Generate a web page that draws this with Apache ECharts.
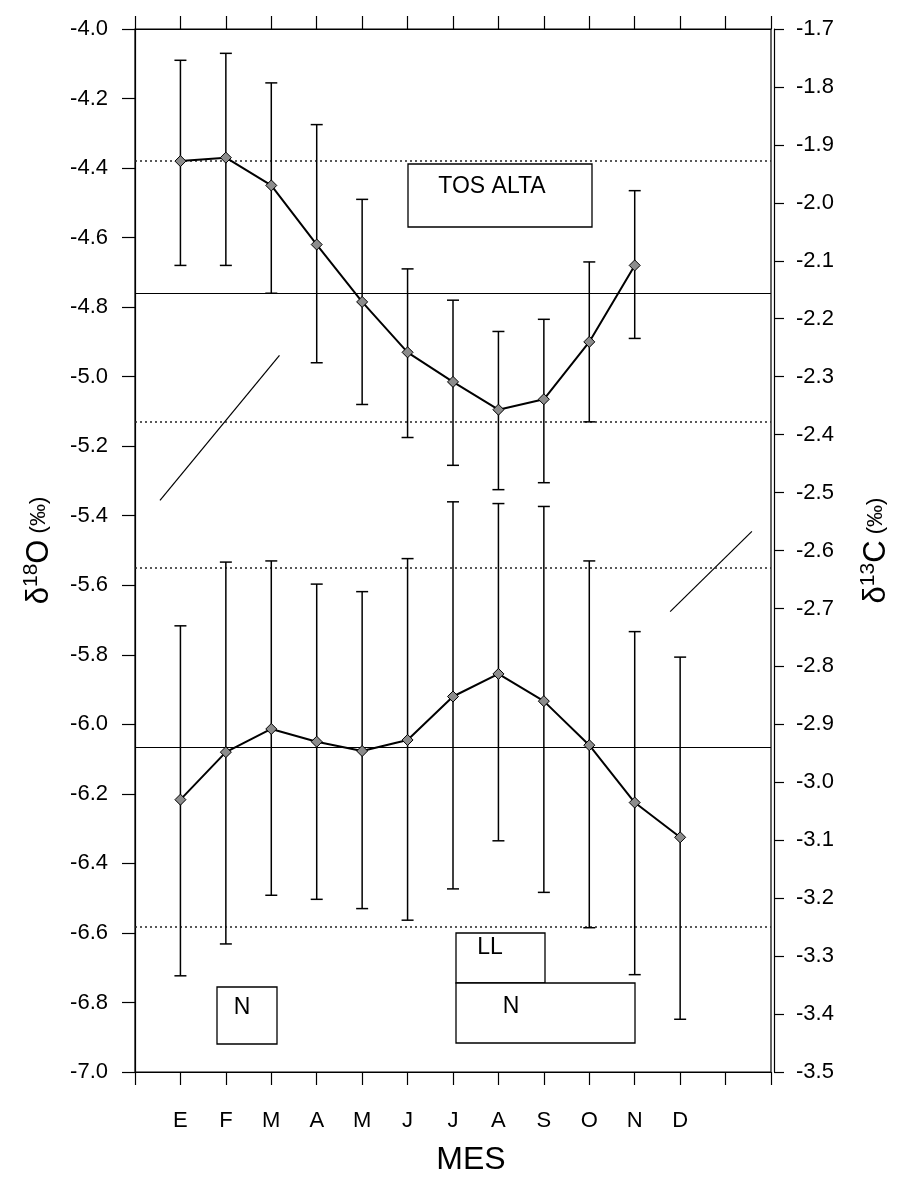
<!DOCTYPE html>
<html>
<head>
<meta charset="utf-8">
<script src="https://cdn.jsdelivr.net/npm/echarts@6/dist/echarts.min.js"></script>
<style>
html,body{margin:0;padding:0;background:#fff;}
#chart{width:908px;height:1182px;}
</style>
</head>
<body>
<div id="chart"></div>
<script>
// ---- data ----
var months = ['E','F','M','A','M','J','J','A','S','O','N','D'];
// delta 18O (left axis), months E..N
var d18O_mean = [-4.38,-4.37,-4.45,-4.62,-4.785,-4.93,-5.015,-5.095,-5.065,-4.90,-4.68];
var d18O_hi   = [-4.09,-4.07,-4.155,-4.275,-4.49,-4.69,-4.78,-4.87,-4.835,-4.67,-4.465];
var d18O_lo   = [-4.68,-4.68,-4.76,-4.96,-5.08,-5.175,-5.255,-5.325,-5.305,-5.13,-4.89];
// delta 13C (right axis), months E..D
var d13C_mean = [-3.03,-2.948,-2.908,-2.93,-2.946,-2.927,-2.852,-2.813,-2.86,-2.936,-3.035,-3.095];
var d13C_hi   = [-2.73,-2.62,-2.618,-2.658,-2.671,-2.614,-2.516,-2.519,-2.524,-2.618,-2.74,-2.784];
var d13C_lo   = [-3.334,-3.279,-3.195,-3.202,-3.218,-3.238,-3.184,-3.101,-3.19,-3.251,-3.332,-3.409];
// reference lines: mean, mean+sd, mean-sd
var d18O_ref = [-4.758,-4.384,-5.128];
var d13C_ref = [-2.94,-2.629,-3.25];
// pointer lines (in left-axis data units): [x0,y0,x1,y1]
var pointers = [[0.55,-5.356,3.18,-4.939],[11.78,-5.676,13.58,-5.445]];

var FONT = 'Liberation Sans, Arial, Helvetica, sans-serif';

function pts(arr){ return arr.map(function(v,i){ return [i+1, v]; }); }
function errs(lo,hi){ return lo.map(function(v,i){ return [i+1, v, hi[i]]; }); }

function errRender(params, api){
  var x = api.value(0), lo = api.value(1), hi = api.value(2);
  var p1 = api.coord([x, hi]), p2 = api.coord([x, lo]);
  var w = 6, st = {stroke:'#000', lineWidth:1.5};
  return {type:'group', children:[
    {type:'line', shape:{x1:p1[0],y1:p1[1],x2:p2[0],y2:p2[1]}, style:st},
    {type:'line', shape:{x1:p1[0]-w,y1:p1[1],x2:p1[0]+w,y2:p1[1]}, style:st},
    {type:'line', shape:{x1:p2[0]-w,y1:p2[1],x2:p2[0]+w,y2:p2[1]}, style:st}
  ]};
}

function refLines(ref){
  return [
    {yAxis: ref[0], lineStyle:{type:'solid', width:1, color:'#000'}},
    {yAxis: ref[1], lineStyle:{type:[2,3], width:1.5, color:'#222'}},
    {yAxis: ref[2], lineStyle:{type:[2,3], width:1.5, color:'#222'}}
  ];
}

var chart = echarts.init(document.getElementById('chart'), null, {renderer:'canvas'});

var xCommon = {
  type:'value', min:0, max:14, interval:1,
  splitLine:{show:false},
  axisLine:{onZero:false, lineStyle:{color:'#000', width:1.2}},
  axisTick:{inside:false, length:13, lineStyle:{color:'#000', width:1.2}}
};

var option = {
  animation:false,
  backgroundColor:'#fff',
  grid:{left:135, right:137, top:29, bottom:110, show:true, borderColor:'#000', borderWidth:1.2, backgroundColor:'transparent'},
  xAxis:[
    Object.assign({}, xCommon, {
      position:'bottom',
      name:'MES', nameLocation:'middle', nameGap:72,
      nameTextStyle:{fontFamily:FONT, fontSize:32, color:'#000', padding:[0,0,0,36]},
      axisLabel:{margin:38, fontFamily:FONT, fontSize:22, color:'#000',
        formatter:function(v){ return (v>=1 && v<=12) ? months[v-1] : ''; }}
    }),
    Object.assign({}, xCommon, {position:'top', axisLabel:{show:false}})
  ],
  yAxis:[
    {
      type:'value', position:'left', min:-7, max:-4, interval:0.2,
      splitLine:{show:false},
      axisLine:{show:true, onZero:false, lineStyle:{color:'#000', width:1.2}},
      axisTick:{length:13, lineStyle:{color:'#000', width:1.2}},
      axisLabel:{margin:27, fontFamily:FONT, fontSize:22, color:'#000',
        formatter:function(v){ return v.toFixed(1); }},
      name:'{a|δ}{s|18}{a|O}{p| (‰)}', nameLocation:'middle', nameRotate:90, nameGap:78,
      nameTextStyle:{color:'#000', fontFamily:FONT,
        rich:{
          a:{fontSize:31, fontFamily:FONT, color:'#000', lineHeight:36},
          s:{fontSize:21, fontFamily:FONT, color:'#000', verticalAlign:'top', lineHeight:36},
          p:{fontSize:22, fontFamily:FONT, color:'#000', lineHeight:36}
        }}
    },
    {
      type:'value', position:'right', offset:3, min:-3.5, max:-1.7, interval:0.1,
      splitLine:{show:false},
      axisLine:{show:true, onZero:false, lineStyle:{color:'#000', width:1.2}},
      axisTick:{length:10, lineStyle:{color:'#000', width:1.2}},
      axisLabel:{margin:22, fontFamily:FONT, fontSize:22, color:'#000',
        formatter:function(v){ return v.toFixed(1); }},
      name:'{a|δ}{s|13}{a|C}{p| (‰)}', nameLocation:'middle', nameRotate:90, nameGap:84,
      nameTextStyle:{color:'#000', fontFamily:FONT,
        rich:{
          a:{fontSize:31, fontFamily:FONT, color:'#000', lineHeight:36},
          s:{fontSize:21, fontFamily:FONT, color:'#000', verticalAlign:'top', lineHeight:36},
          p:{fontSize:22, fontFamily:FONT, color:'#000', lineHeight:36}
        }}
    }
  ],
  series:[
    {
      type:'custom', name:'d18O err', xAxisIndex:0, yAxisIndex:0,
      renderItem:errRender, data:errs(d18O_lo, d18O_hi), z:3, silent:true
    },
    {
      type:'custom', name:'d13C err', xAxisIndex:0, yAxisIndex:1,
      renderItem:errRender, data:errs(d13C_lo, d13C_hi), z:3, silent:true
    },
    {
      type:'line', name:'d18O', xAxisIndex:0, yAxisIndex:0,
      data:pts(d18O_mean), symbol:'diamond', symbolSize:11, z:5,
      lineStyle:{color:'#000', width:2},
      itemStyle:{color:'#8c8c8c', borderColor:'#000', borderWidth:1},
      markLine:{silent:true, symbol:'none', label:{show:false}, z:2,
        data: refLines(d18O_ref).concat(pointers.map(function(p){
          return [{coord:[p[0],p[1]], lineStyle:{type:'solid', width:1.2, color:'#000'}},{coord:[p[2],p[3]]}];
        }))
      }
    },
    {
      type:'line', name:'d13C', xAxisIndex:0, yAxisIndex:1,
      data:pts(d13C_mean), symbol:'diamond', symbolSize:11, z:5,
      lineStyle:{color:'#000', width:2},
      itemStyle:{color:'#8c8c8c', borderColor:'#000', borderWidth:1},
      markLine:{silent:true, symbol:'none', label:{show:false}, z:2,
        data: refLines(d13C_ref)}
    }
  ],
  graphic:[
    {type:'rect', shape:{x:408,y:164,width:184,height:63}, style:{fill:'#fff', stroke:'#000', lineWidth:1.3}, z:10},
    {type:'text', x:492, y:187, style:{text:'TOS ALTA', font:'23px '+FONT, fill:'#000', textAlign:'center', textVerticalAlign:'middle'}, z:11},
    {type:'rect', shape:{x:217,y:987,width:60,height:57}, style:{fill:'#fff', stroke:'#000', lineWidth:1.3}, z:10},
    {type:'text', x:242, y:1008, style:{text:'N', font:'23px '+FONT, fill:'#000', textAlign:'center', textVerticalAlign:'middle'}, z:11},
    {type:'rect', shape:{x:456,y:933,width:89,height:50}, style:{fill:'#fff', stroke:'#000', lineWidth:1.3}, z:10},
    {type:'text', x:490, y:948, style:{text:'LL', font:'23px '+FONT, fill:'#000', textAlign:'center', textVerticalAlign:'middle'}, z:11},
    {type:'rect', shape:{x:456,y:983,width:179,height:60}, style:{fill:'#fff', stroke:'#000', lineWidth:1.3}, z:10},
    {type:'text', x:511, y:1007, style:{text:'N', font:'23px '+FONT, fill:'#000', textAlign:'center', textVerticalAlign:'middle'}, z:11}
  ]
};
chart.setOption(option);
</script>
</body>
</html>
